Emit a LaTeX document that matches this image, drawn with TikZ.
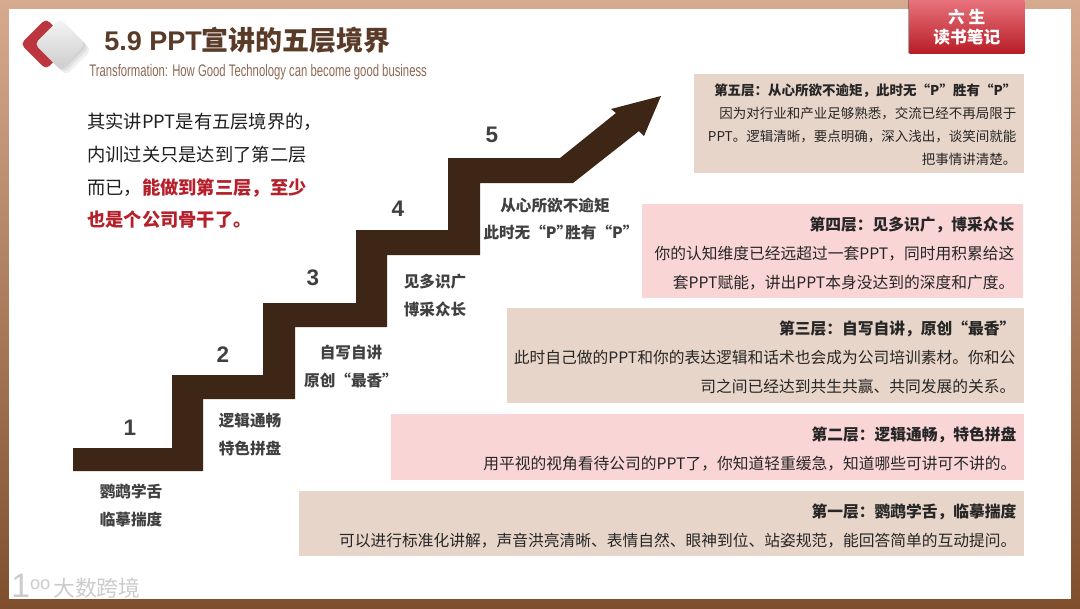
\documentclass[tikz,border=0pt]{standalone}
\usepackage{fontspec}
\setmainfont{Noto Sans CJK SC}
\newfontfamily\latinfont{Liberation Sans}
\newfontfamily\subfont[FakeStretch=0.676]{Liberation Sans}
\usepackage{tikz}
\usetikzlibrary{calc}
\usepackage{xcolor}
\definecolor{framehi}{HTML}{D6AA8E}
\definecolor{framelo}{HTML}{7F4F2D}
\definecolor{stair}{HTML}{3E2617}
\definecolor{tanbox}{HTML}{E8D5C9}
\definecolor{pinkbox}{HTML}{FAD5D6}
\definecolor{headbrown}{HTML}{5A3B28}
\definecolor{subbrown}{HTML}{8E6A54}
\definecolor{hotred}{HTML}{B5202B}
\definecolor{badgehi}{HTML}{E8727C}
\definecolor{badgelo}{HTML}{B81D25}

\begin{document}
\begin{tikzpicture}[
  x=0.025cm, y=-0.025cm,
  lvl/.style 2 args={anchor=north west, inner sep=0, minimum width=#1*0.025cm, minimum height=#2*0.025cm},
  lvltxt/.style={anchor=east, inner sep=0, align=right, text=black!85, font=\fontsize{11.2}{20.6}\selectfont},
  lvltop/.style={lvltxt, font=\fontsize{9.6}{16.3}\selectfont},
  steptxt/.style={inner sep=0, align=center, text=black!75, font=\fontsize{11.1}{19.9}\selectfont\bfseries},
  stepnum/.style={inner sep=0, text=black!75, font=\fontsize{16}{18}\latinfont\bfseries},
  diam/.style={rotate=45, rounded corners=5*0.025cm, minimum size=36*0.025cm, inner sep=0},
  wmark/.style={anchor=west, inner sep=0, text=black!20},
]
  \useasboundingbox (0,0) rectangle (1080,608);
  \shade[top color=framehi, bottom color=framelo] (0,0) rectangle (1080,608);
  \fill[white] (9,9) rectangle (1071,599);

  \foreach \d in {2,4,6}
    \node[diam, fill=black, opacity=0.06] (shadow\d) at (60+\d,44+\d) {};
  \node[diam, fill=hotred!90!white] (logored) at (46,44) {};
  \node[diam, top color=white!96!black, bottom color=black!20] (logogrey) at (60,44) {};

  \node[anchor=west, inner sep=0, text=headbrown, font=\fontsize{19.2}{22}\selectfont\bfseries] (title) at (104,40)
    {{\latinfont 5.9 PPT}宣讲的五层境界};
  \node[anchor=west, inner sep=0, text=subbrown, font=\fontsize{11.9}{14}\subfont] (subtitle) at (89,72)
    {Transformation: How Good Technology can become good business};

  \fill[black, opacity=0.35] (907.5,0) rectangle (909,53);
  \node[lvl={115}{53}, top color=badgehi, bottom color=badgelo, text=white,
    align=center, font=\fontsize{11.9}{14.2}\selectfont\bfseries] (badge) at (909,0) {六 生\\读书笔记};

  \node[anchor=west, inner sep=0, align=left, text=black!88, font=\fontsize{13}{23.2}\selectfont] (intro) at (87,171)
    {其实讲PPT是有五层境界的，\\内训过关只是达到了第二层\\而已，{\bfseries\color{hotred}能做到第三层，至少}\\{\bfseries\color{hotred}也是个公司骨干了。}};

  \fill[stair] (73,448) -- (172,448) -- (172,375) -- (263,375) -- (263,303) -- (356,303) -- (356,230)
    -- (448,230) -- (448,158) -- (560,158) -- (616,113) -- (611,109) -- (661,96) -- (644,136) -- (639,131)
    -- (573,183) -- (480,183) -- (480,255) -- (387,255) -- (387,327) -- (295,327) -- (295,399) -- (203,399)
    -- (203,471) -- (73,471) -- cycle;

  \node[stepnum] (n1) at (130,428) {1};
  \node[stepnum] (n2) at (223,355) {2};
  \node[stepnum] (n3) at (313,278) {3};
  \node[stepnum] (n4) at (398,209) {4};
  \node[stepnum] (n5) at (492,135) {5};

  \node[steptxt] (s1) at (131,505) {鹦鹉学舌\\临摹揣度};
  \node[steptxt] (s2) at (250,435) {逻辑通畅\\特色拼盘};
  \node[steptxt] (s3) at (351,367) {自写自讲\\原创“最香”};
  \node[steptxt] (s4) at (435,296) {见多识广\\博采众长};
  \node[steptxt] (s5) at (555,219) {从心所欲不逾矩\\\hspace*{8.5pt}此时无“P”\kern-.45em 胜有“P”};

  \node[lvl={330}{99}, fill=tanbox] (b5) at (694,74) {};
  \node[lvl={381}{94}, fill=pinkbox] (b4) at (642,204) {};
  \node[lvl={517}{95}, fill=tanbox] (b3) at (507,308) {};
  \node[lvl={633}{66}, fill=pinkbox] (b2) at (391,414) {};
  \node[lvl={725}{65}, fill=tanbox] (b1) at (299,491) {};

  \node[lvltop] (t5) at ($(b5.east)+(-8,1)$) {\textbf{第五层：从心所欲不逾矩，此时无“P”胜有“P”}\\因为对行业和产业足够熟悉，交流已经不再局限于\\PPT。逻辑清晰，要点明确，深入浅出，谈笑间就能\\把事情讲清楚。};
  \node[lvltxt] (t4) at ($(b4.east)+(-9,2)$) {\textbf{第四层：见多识广，博采众长}\\你的认知维度已经远超过一套PPT，同时用积累给这\\套PPT赋能，讲出PPT本身没达到的深度和广度。};
  \node[lvltxt] (t3) at ($(b3.east)+(-9,2)$) {\textbf{第三层：自写自讲，原创“最香”}\\此时自己做的PPT和你的表达逻辑和话术也会成为公司培训素材。你和公\\司之间已经达到共生共赢、共同发展的关系。};
  \node[lvltxt] (t2) at ($(b2.east)+(-8,2)$) {\textbf{第二层：逻辑通畅，特色拼盘}\\用平视的视角看待公司的PPT了，你知道轻重缓急，知道哪些可讲可不讲的。};
  \node[lvltxt] (t1) at ($(b1.east)+(-8,2)$) {\textbf{第一层：鹦鹉学舌，临摹揣度}\\可以进行标准化讲解，声音洪亮清晰、表情自然、眼神到位、站姿规范，能回答简单的互动提问。};

  \node[wmark, font=\fontsize{24}{26}\latinfont] (wmlogo) at (11,586) {1\raisebox{6pt}{\fontsize{13}{14}\selectfont oo}};
  \node[wmark, font=\fontsize{15.5}{18}\selectfont] (wm) at (53,588) {大数跨境};
\end{tikzpicture}
\end{document}
